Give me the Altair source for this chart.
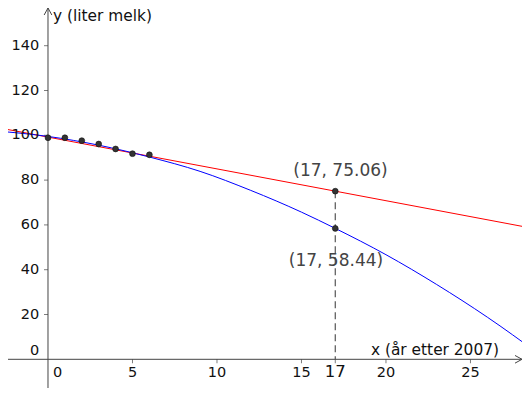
import altair as alt
import pandas as pd

# ---- data ----
years = [0, 1, 2, 3, 4, 5, 6]
milk = [98.9, 98.9, 97.6, 96.1, 93.9, 91.8, 91.3]

lin_x = [-3, 29]
lin_y = [103.46, 58.02]

quad_x = [-3, 0, 3, 6, 9, 12, 15, 17, 20, 23, 26, 29]
quad_y = [101.9, 99.5, 95.6, 90.3, 83.9, 75.4, 65.7, 58.44, 46.7, 33.4, 18.8, 2.7]

pred_x = [17, 17]
pred_y = [75.06, 58.44]
pred_text = ["(17, 75.06)", "(17, 58.44)"]

x_ticks = [5, 10, 15, 20, 25]
y_ticks = [20, 40, 60, 80, 100, 120, 140]
x_title = "x (år etter 2007)"
y_title = "y (liter melk)"

XMIN, XMAX = -2.367, 28.05
YMIN, YMAX = -12.81, 156.83

FONT = "DejaVu Sans"
AX = "#444444"

xs = alt.Scale(domain=[XMIN, XMAX], nice=False, zero=False)
ys = alt.Scale(domain=[YMIN, YMAX], nice=False, zero=False)


def X(f="x"):
    return alt.X(f"{f}:Q", scale=xs, axis=None)


def Y(f="y"):
    return alt.Y(f"{f}:Q", scale=ys, axis=None)


pts = pd.DataFrame({"x": years, "y": milk})
lin = pd.DataFrame({"x": lin_x, "y": lin_y})
quad = pd.DataFrame({"x": quad_x, "y": quad_y})
pred = pd.DataFrame({"x": pred_x, "y": pred_y, "t": pred_text})
xt = pd.DataFrame({"x": x_ticks, "y": [0] * len(x_ticks), "t": [str(v) for v in x_ticks]})
xt_marks = pd.DataFrame({"x": x_ticks + [pred_x[0]], "y": [0] * (len(x_ticks) + 1)})
yt = pd.DataFrame({"x": [0] * len(y_ticks), "y": y_ticks, "t": [str(v) for v in y_ticks]})
origin = pd.DataFrame({"x": [0], "y": [0], "t": ["0"]})
seventeen = pd.DataFrame({"x": [pred_x[0]], "y": [0], "t": [str(pred_x[0])]})

xaxis = alt.Chart(pd.DataFrame({"x": [XMIN], "x2": [XMAX], "y": [0]})).mark_rule(
    color=AX, strokeWidth=1).encode(x=X(), x2="x2:Q", y=Y())
yaxis = alt.Chart(pd.DataFrame({"x": [0], "y": [YMIN], "y2": [YMAX]})).mark_rule(
    color=AX, strokeWidth=1).encode(x=X(), y=Y(), y2="y2:Q")

xarrow = alt.Chart(pd.DataFrame({"x": [XMAX], "y": [0]})).mark_point(
    shape="M-1,-0.55L0,0L-1,0.55", filled=False, size=196, color=AX, strokeWidth=1, opacity=1
).encode(x=X(), y=Y())
yarrow = alt.Chart(pd.DataFrame({"x": [0], "y": [YMAX]})).mark_point(
    shape="M-0.55,1L0,0L0.55,1", filled=False, size=196, color=AX, strokeWidth=1, opacity=1
).encode(x=X(), y=Y())

xtick_marks = alt.Chart(xt_marks).mark_tick(orient="vertical", size=4, yOffset=2, thickness=1,
                                           color=AX).encode(x=X(), y=Y())
ytick_marks = alt.Chart(yt).mark_tick(orient="horizontal", size=4, xOffset=-2, thickness=1,
                                     color=AX).encode(x=X(), y=Y())
xtick_lab = alt.Chart(xt).mark_text(font=FONT, fontSize=14.5, dy=13.7, color="#111",
                                    baseline="middle").encode(x=X(), y=Y(), text="t:N")
ytick_lab = alt.Chart(yt).mark_text(font=FONT, fontSize=14.5, dx=-8.7, align="right",
                                    baseline="middle", color="#111").encode(x=X(), y=Y(), text="t:N")
x0_lab = alt.Chart(origin).mark_text(font=FONT, fontSize=14.5, dx=9.5, dy=13.7,
                                     baseline="middle", color="#111").encode(x=X(), y=Y(), text="t:N")
y0_lab = alt.Chart(origin).mark_text(font=FONT, fontSize=14.5, dx=-8.7, dy=-8.6, align="right",
                                     baseline="middle", color="#111").encode(x=X(), y=Y(), text="t:N")
lab17 = alt.Chart(seventeen).mark_text(font=FONT, fontSize=16.5, dy=12.5,
                                       baseline="middle", color="#111").encode(x=X(), y=Y(), text="t:N")

xtitle = alt.Chart(pd.DataFrame({"x": [XMAX], "y": [0], "t": [x_title]})).mark_text(
    font=FONT, fontSize=15.4, align="right", baseline="middle", dx=-23, dy=-9.3, color="#111"
).encode(x=X(), y=Y(), text="t:N")
ytitle = alt.Chart(pd.DataFrame({"x": [0], "y": [YMAX], "t": [y_title]})).mark_text(
    font=FONT, fontSize=15.4, align="left", baseline="middle", dx=5, dy=8, color="#111"
).encode(x=X(), y=Y(), text="t:N")

red = alt.Chart(lin).mark_line(color="#ff0000", strokeWidth=1, clip=True).encode(x=X(), y=Y())
blue = alt.Chart(quad).mark_line(color="#0000ff", strokeWidth=1, clip=True,
                                 interpolate="monotone").encode(x=X(), y=Y())

dash = alt.Chart(pd.DataFrame({"x": [pred_x[0]], "y": [pred_y[0]], "y2": [0]})).mark_rule(
    color="#555555", strokeWidth=1.2, strokeDash=[7, 4]).encode(x=X(), y=Y(), y2="y2:Q")

dots = alt.Chart(pts).mark_circle(size=34, color="#333333", opacity=1,
                                  stroke="#111111", strokeWidth=0.6).encode(x=X(), y=Y())
pdots = alt.Chart(pred).mark_circle(size=34, color="#333333", opacity=1,
                                    stroke="#111111", strokeWidth=0.6).encode(x=X(), y=Y())

plab1 = alt.Chart(pred.iloc[[0]]).mark_text(font=FONT, fontSize=17, dx=5.2, dy=-20,
                                            baseline="middle", color="#444444").encode(
    x=X(), y=Y(), text="t:N")
plab2 = alt.Chart(pred.iloc[[1]]).mark_text(font=FONT, fontSize=17, dx=0.7, dy=32.6,
                                            baseline="middle", color="#444444").encode(
    x=X(), y=Y(), text="t:N")

chart = alt.layer(
    xaxis, yaxis, xarrow, yarrow, xtick_marks, ytick_marks,
    red, blue, dash, dots, pdots,
    xtick_lab, ytick_lab, x0_lab, y0_lab, lab17, xtitle, ytitle, plab1, plab2,
).properties(
    width=514, height=380, padding=0, autosize=alt.AutoSizeParams(type="none")
).configure_view(stroke=None)

chart.save("out.html", embed_options={"renderer": "svg", "actions": False})
